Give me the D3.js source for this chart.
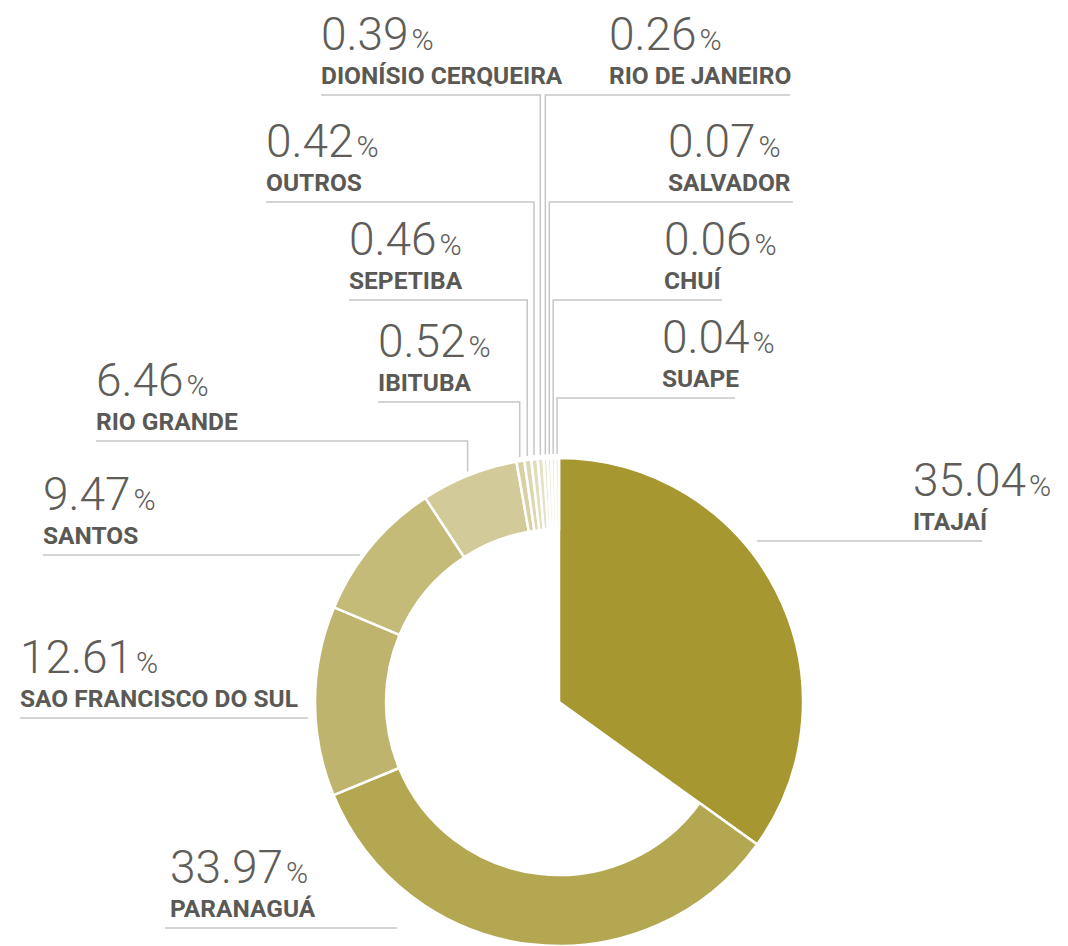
<!DOCTYPE html>
<html>
<head>
<meta charset="utf-8">
<title>Portos - participação</title>
<script type="text/javascript" src="https://d3js.org/d3.v7.js"></script>
<style>
  body { margin: 0; background: #fff; }
  text { font-family: Roboto, "Noto Sans", sans-serif; fill: #5e5d59; }
</style>
</head>
<body>
<script type="text/javascript">
const width = 1068;
const height = 946;

// dados (ordem horária a partir do topo)
const ports = ["ITAJAÍ", "PARANAGUÁ", "SAO FRANCISCO DO SUL", "SANTOS", "RIO GRANDE",
  "IBITUBA", "SEPETIBA", "OUTROS", "DIONÍSIO CERQUEIRA", "RIO DE JANEIRO",
  "SALVADOR", "CHUÍ", "SUAPE"];
const shares = [35.04, 33.97, 12.61, 9.47, 6.46, 0.52, 0.46, 0.42, 0.39, 0.26, 0.07, 0.06, 0.04];

// cores das fatias
const palette = ["#a69730", "#b4a752", "#bfb46d", "#c5bb79", "#d2ca98",
  "#d8d1a6", "#ddd7b1", "#e1dcbb", "#e5e1c5", "#e9e6cf", "#ecead7", "#efede0", "#f2f0e6"];

// fatias muito pequenas ganham um tamanho mínimo só para ficarem visíveis
const minShown = 0.25;

// posição dos rótulos: x do texto, y do sublinhado, fim do sublinhado ou ligação à fatia
const labelLayout = {
  "ITAJAÍ":               { x: 913, y: 541, x1: 757, x2: 982 },
  "PARANAGUÁ":            { x: 170, y: 928, x1: 165, x2: 397 },
  "SAO FRANCISCO DO SUL": { x: 20,  y: 718, x1: 20,  x2: 308 },
  "SANTOS":               { x: 43,  y: 555, x1: 43,  x2: 360 },
  "RIO GRANDE":           { x: 96,  y: 441, x1: 96,  leader: "left" },
  "IBITUBA":              { x: 378, y: 402, x1: 378, leader: "left" },
  "SEPETIBA":             { x: 349, y: 300, x1: 349, leader: "left" },
  "OUTROS":               { x: 266, y: 202, x1: 266, leader: "left" },
  "DIONÍSIO CERQUEIRA":   { x: 321, y: 95,  x1: 321, leader: "left" },
  "RIO DE JANEIRO":       { x: 609, y: 95,  x2: 790, leader: "right" },
  "SALVADOR":             { x: 668, y: 202, x2: 793, leader: "right" },
  "CHUÍ":                 { x: 664, y: 300, x2: 722, leader: "right" },
  "SUAPE":                { x: 662, y: 398, x2: 735, leader: "right" }
};

const cx = 559, cy = 702;
const outerR = 244, innerR = 173;

const svg = d3.select("body")
  .append("svg")
  .attr("width", width)
  .attr("height", height);

const data = ports.map((p, i) => ({ port: p, share: shares[i], color: palette[i] }));

const pie = d3.pie()
  .sort(null)
  .value(d => Math.max(d.share, minShown));

const arcs = pie(data);

// a primeira fatia (ITAJAÍ) vai até ao centro, as outras formam um anel
const arc = d3.arc()
  .innerRadius(d => d.index === 0 ? 0 : innerR)
  .outerRadius(outerR);

const g = svg.append("g").attr("transform", `translate(${cx},${cy})`);

g.selectAll("path")
  .data(arcs)
  .join("path")
  .attr("d", arc)
  .attr("fill", d => d.data.color)
  .attr("stroke", "#fff")
  .attr("stroke-width", 2.5)
  .attr("stroke-linejoin", "miter");

// linhas de ligação
const lines = svg.append("g")
  .attr("fill", "none")
  .attr("stroke", "#c6c6c6")
  .attr("stroke-width", 1.5);

arcs.forEach(d => {
  const L = labelLayout[d.data.port];
  if (L.leader) {
    const a = (d.startAngle + d.endAngle) / 2;
    const px = cx + (outerR + 4) * Math.sin(a);
    const py = cy - (outerR + 4) * Math.cos(a);
    const path = d3.path();
    path.moveTo(L.leader === "left" ? L.x1 : L.x2, L.y);
    path.lineTo(px, L.y);
    path.lineTo(px, py);
    lines.append("path").attr("d", path.toString());
  } else {
    lines.append("line")
      .attr("x1", L.x1).attr("x2", L.x2)
      .attr("y1", L.y).attr("y2", L.y);
  }
});

// rótulos
const fmt = d3.format(".2f");
const labels = svg.append("g");

arcs.forEach(d => {
  const L = labelLayout[d.data.port];
  const num = labels.append("text")
    .attr("x", L.x)
    .attr("y", L.y - 45)
    .attr("font-weight", 300)
    .attr("font-size", 46);
  num.append("tspan").text(fmt(d.data.share));
  num.append("tspan").attr("font-size", 30).attr("dx", 3).text("%");

  labels.append("text")
    .attr("x", L.x)
    .attr("y", L.y - 11)
    .attr("font-weight", 700)
    .attr("font-size", 24.5)
    .style("fill", "#5a5955")
    .text(d.data.port);
});
</script>
</body>
</html>
